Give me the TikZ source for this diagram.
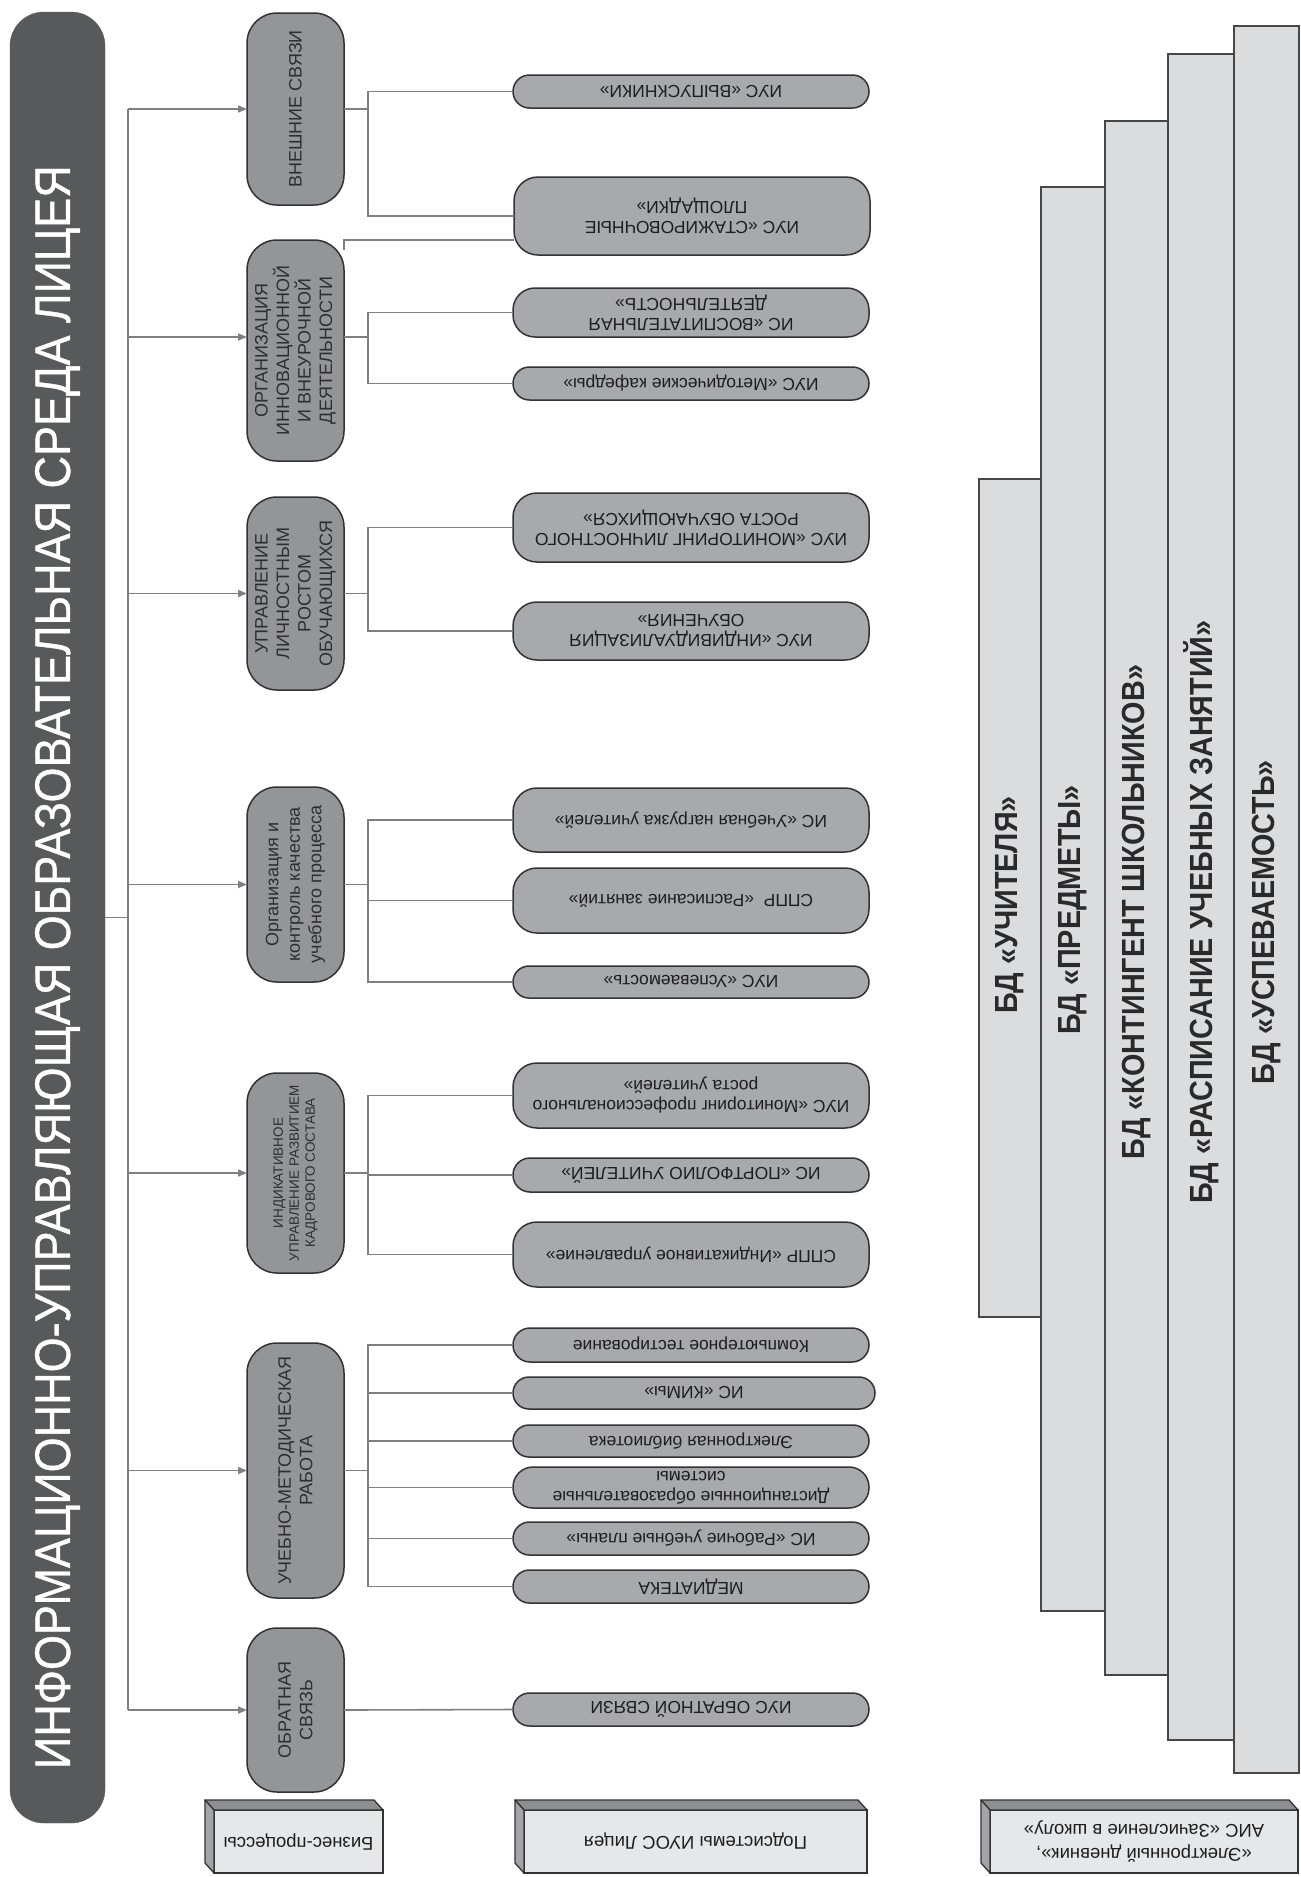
\documentclass[tikz,border=0pt]{standalone}
\usepackage{fontspec}
\setmainfont{Liberation Sans}
\newfontfamily\titlefont[FakeStretch=0.9,FakeBold=0.8]{Liberation Sans}
\newfontfamily\bdfont[FakeStretch=0.9]{Liberation Sans}
\usetikzlibrary{arrows.meta}

\definecolor{darkfill}{HTML}{58595B}
\definecolor{procfill}{HTML}{939598}
\definecolor{pillfill}{HTML}{A7A9AC}
\definecolor{edge}{HTML}{333333}
\definecolor{linegray}{HTML}{808080}
\definecolor{proctxt}{HTML}{2E2E2E}
\definecolor{pilltxt}{HTML}{1E1E1E}
\definecolor{bdfill}{HTML}{DBDCDE}
\definecolor{bdedge}{HTML}{474747}
\definecolor{bdtxt}{HTML}{2A2A2A}
\definecolor{cubefill}{HTML}{E6E7E8}
\definecolor{cubetopfill}{HTML}{8C8E91}
\definecolor{cubesidefill}{HTML}{A2A4A7}

% one pill-shaped subsystem node with its upside-down caption
\newcommand\mkpill[5]{%
  \node[pill, minimum height=#3pt, rounded corners=#4pt] (#1) at (691,#2) {};
  \node[pilltext] (#1t) at (#1.center) {#5};}

\begin{document}
\begin{tikzpicture}[x=1pt,y=-1pt,
  conn/.style={draw=linegray, line width=1.6pt},
  arr/.style={conn, -{Triangle[length=9pt,width=7pt]}},
  mainbox/.style={draw=darkfill, fill=darkfill, rounded corners=34pt, inner sep=0pt, outer sep=0pt, minimum width=95pt},
  proc/.style={draw=edge, fill=procfill, line width=1.5pt, rounded corners=30pt, inner sep=0pt, outer sep=0pt, minimum width=97pt},
  proctext/.style={rotate=90, align=center, text=proctxt, inner sep=0pt, font=\fontsize{18}{21.5}\selectfont},
  pill/.style={draw=edge, fill=pillfill, line width=1.5pt, inner sep=0pt, outer sep=0pt, minimum width=356pt},
  pilltext/.style={rotate=180, align=center, text=pilltxt, inner sep=0pt, font=\fontsize{17.5}{20}\selectfont},
  bdcol/.style={draw=bdedge, fill=bdfill, line width=2pt, inner sep=0pt, outer sep=0pt},
  bdtext/.style={rotate=90, text=bdtxt, inner sep=0pt, font=\bdfont\bfseries\fontsize{32}{36}\selectfont},
  cubefront/.style={draw=edge, fill=cubefill, line width=1.3pt, inner sep=0pt, outer sep=0pt, minimum height=63pt},
  cubetop/.style={draw=edge, fill=cubetopfill, line width=1.3pt, line join=round},
  cubeside/.style={draw=edge, fill=cubesidefill, line width=1.3pt, line join=round},
  cubetext/.style={rotate=180, align=center, text=pilltxt, inner sep=0pt, font=\fontsize{18.5}{24}\selectfont},
]
\useasboundingbox[fill=white] (0,0) rectangle (1301,1877);

% ---------- main block ----------
\node[mainbox, minimum height=1811pt] (m) at (57.5,917.5) {};
\node[rotate=90, anchor=east, text=white, inner sep=0pt,
      font=\titlefont\fontsize{50}{56}\selectfont] (mt) at (57.5,165)
  {ИНФОРМАЦИОННО-УПРАВЛЯЮЩАЯ ОБРАЗОВАТЕЛЬНАЯ СРЕДА ЛИЦЕЯ};

% ---------- business processes ----------
\node[proc, minimum height=192pt] (p1) at (295.5,109) {};
\node[proctext] (p1t) at (p1.center) {ВНЕШНИЕ СВЯЗИ};
\node[proc, minimum height=221pt] (p2) at (295.5,350.5) {};
\node[proctext] (p2t) at (p2.center) {ОРГАНИЗАЦИЯ\\ИННОВАЦИОННОЙ\\И ВНЕУРОЧНОЙ\\ДЕЯТЕЛЬНОСТИ};
\node[proc, minimum height=193pt] (p3) at (295.5,593.5) {};
\node[proctext] (p3t) at (p3.center) {УПРАВЛЕНИЕ\\ЛИЧНОСТНЫМ\\РОСТОМ\\ОБУЧАЮЩИХСЯ};
\node[proc, minimum height=195pt] (p4) at (295.5,884.5) {};
\node[proctext] (p4t) at (p4.center) {Организация и\\контроль качества\\учебного процесса};
\node[proc, minimum height=200pt] (p5) at (295.5,1173) {};
\node[proctext, font=\fontsize{13.5}{16}\selectfont] (p5t) at (p5.center) {ИНДИКАТИВНОЕ\\УПРАВЛЕНИЕ РАЗВИТИЕМ\\КАДРОВОГО СОСТАВА};
\node[proc, minimum height=255pt] (p6) at (295.5,1470.5) {};
\node[proctext] (p6t) at (p6.center) {УЧЕБНО-МЕТОДИЧЕСКАЯ\\РАБОТА};
\node[proc, minimum height=164pt] (p7) at (295.5,1710) {};
\node[proctext] (p7t) at (p7.center) {ОБРАТНАЯ\\СВЯЗЬ};

% ---------- subsystems ----------
\mkpill{s1}{91.5}{33}{16.5}{ИУС «ВЫПУСКНИКИ»}
\node[pill, minimum width=356pt, minimum height=78pt, rounded corners=24pt] (s2) at (692,216) {};
\node[pilltext] (s2t) at (s2.center) {ИУС «СТАЖИРОВОЧНЫЕ\\ПЛОЩАДКИ»};
\mkpill{s3}{312.5}{49}{22}{ИС «ВОСПИТАТЕЛЬНАЯ\\ДЕЯТЕЛЬНОСТЬ»}
\mkpill{s4}{383.5}{33}{16.5}{ИУС «Методические кафедры»}
\mkpill{s5}{527.5}{69}{24}{ИУС «МОНИТОРИНГ ЛИЧНОСТНОГО\\РОСТА ОБУЧАЮЩИХСЯ»}
\mkpill{s6}{631}{58}{24}{ИУС «ИНДИВИДУАЛИЗАЦИЯ\\ОБУЧЕНИЯ»}
\mkpill{s7}{820}{64}{24}{ИС «Учебная нагрузка учителей»}
\mkpill{s8}{900.5}{65}{24}{СППР~~«Расписание занятий»}
\mkpill{s9}{982}{32}{16}{ИУС «Успеваемость»}
\mkpill{s10}{1095.5}{65}{24}{ИУС «Мониторинг профессионального\\роста учителей»}
\mkpill{s11}{1175}{34}{17}{ИС «ПОРТФОЛИО УЧИТЕЛЕЙ»}
\mkpill{s12}{1254.5}{65}{24}{СППР «Индикативное управление»}
\mkpill{s13}{1345}{34}{17}{Компьютерное тестирование}
\node[pill, minimum width=362pt, minimum height=32pt, rounded corners=16pt] (s14) at (694,1393) {};
\node[pilltext] (s14t) at (s14.center) {ИС «КИМы»};
\mkpill{s15}{1441}{32}{16}{Электронная библиотека}
\mkpill{s16}{1487.5}{41}{20}{Дистанционные образовательные\\системы}
\mkpill{s17}{1538.5}{33}{16.5}{ИС «Рабочие учебные планы»}
\mkpill{s18}{1586.5}{33}{16.5}{МЕДИАТЕКА}
\mkpill{s19}{1709.5}{33}{16.5}{ИУС ОБРАТНОЙ СВЯЗИ}

% ---------- databases ----------
\node[bdcol, minimum width=62pt, minimum height=838pt] (d1) at (1010,898) {};
\node[bdcol, minimum width=64pt, minimum height=1424pt] (d2) at (1073,899) {};
\node[bdcol, minimum width=63pt, minimum height=1554pt] (d3) at (1136.5,898) {};
\node[bdcol, minimum width=66pt, minimum height=1686pt] (d4) at (1201,897) {};
\node[bdcol, minimum width=65pt, minimum height=1747pt] (d5) at (1266.5,899.5) {};
\node[bdtext] (d1t) at (1010,905) {БД «УЧИТЕЛЯ»};
\node[bdtext] (d2t) at (1073,910) {БД «ПРЕДМЕТЫ»};
\node[bdtext] (d3t) at (1136.5,912) {БД «КОНТИНГЕНТ ШКОЛЬНИКОВ»};
\node[bdtext] (d4t) at (1201,912) {БД «РАСПИСАНИЕ УЧЕБНЫХ ЗАНЯТИЙ»};
\node[bdtext] (d5t) at (1266.5,922) {БД «УСПЕВАЕМОСТЬ»};

% ---------- legend blocks ----------
\node[cubefront, minimum width=169pt] (k1) at (298.5,1841.5) {};
\node[cubefront, minimum width=343pt] (k2) at (695.5,1841.5) {};
\node[cubefront, minimum width=308pt] (k3) at (1144,1841.5) {};
\foreach \k in {k1,k2,k3}{
  \draw[cubetop] ([shift={(-9,-10)}]\k.north west) -- ([shift={(-9,-10)}]\k.north east)
     -- (\k.north east) -- (\k.north west) -- cycle;
  \draw[cubeside] ([shift={(-9,-10)}]\k.north west) -- (\k.north west)
     -- (\k.south west) -- ([shift={(-9,-10)}]\k.south west) -- cycle;
}
\node[cubetext] (k1t) at (k1.center) {Бизнес-процессы};
\node[cubetext] (k2t) at (k2.center) {Подсистемы ИУОС Лицея};
\node[cubetext] (k3t) at (k3.center) {«Электронный дневник»,\\АИС «Зачисление в школу»};

% ---------- connectors ----------
\coordinate (tr) at (128,0);
\coordinate (bx) at (368,0);
\coordinate (p2in) at ([yshift=13.5pt]p2.west);
\coordinate (p2out) at ([yshift=13.5pt]p2.east);

\draw[conn] (m.east) -- (m.east -| tr);
\draw[conn] (p1.west -| tr) -- (p7.west -| tr);
\draw[arr] (p1.west -| tr) -- (p1.west);
\draw[arr] (p2in -| tr) -- (p2in);
\draw[arr] (p3.west -| tr) -- (p3.west);
\draw[arr] (p4.west -| tr) -- (p4.west);
\draw[arr] (p5.west -| tr) -- (p5.west);
\draw[arr] (p6.west -| tr) -- (p6.west);
\draw[arr] (p7.west -| tr) -- (p7.west);

% external links
\draw[conn] (p1.east) -- (p1.east -| bx);
\draw[conn] (s1.west) -- (s1.west -| bx) -- (s2.west -| bx) -- (s2.west);
\draw[conn] ([yshift=-10pt]p2.north east) -- (p2.north east) -- (p2.north east -| s2.west);

% innovation and extracurricular work
\draw[conn] (p2out) -- (p2out -| bx);
\draw[conn] (s3.west) -- (s3.west -| bx) -- (s4.west -| bx) -- (s4.west);

% personal growth of students
\draw[conn] (p3.east) -- (p3.east -| bx);
\draw[conn] (s5.west) -- (s5.west -| bx) -- (s6.west -| bx) -- (s6.west);

% quality of the learning process
\draw[conn] (p4.east) -- (p4.east -| bx);
\draw[conn] (s7.west) -- (s7.west -| bx) -- (s9.west -| bx) -- (s9.west);
\draw[conn] (s8.west -| bx) -- (s8.west);

% staff development
\draw[conn] (p5.east) -- (p5.east -| bx);
\draw[conn] (s10.west) -- (s10.west -| bx) -- (s12.west -| bx) -- (s12.west);
\draw[conn] (s11.west -| bx) -- (s11.west);

% teaching and methodical work
\draw[conn] (p6.east) -- (p6.east -| bx);
\draw[conn] (s13.west) -- (s13.west -| bx) -- (s18.west -| bx) -- (s18.west);
\foreach \s in {s14,s15,s16,s17}{
  \draw[conn] (\s.west -| bx) -- (\s.west);
}

% feedback
\draw[conn] (p7.east) -- (s19.west);

\end{tikzpicture}
\end{document}
